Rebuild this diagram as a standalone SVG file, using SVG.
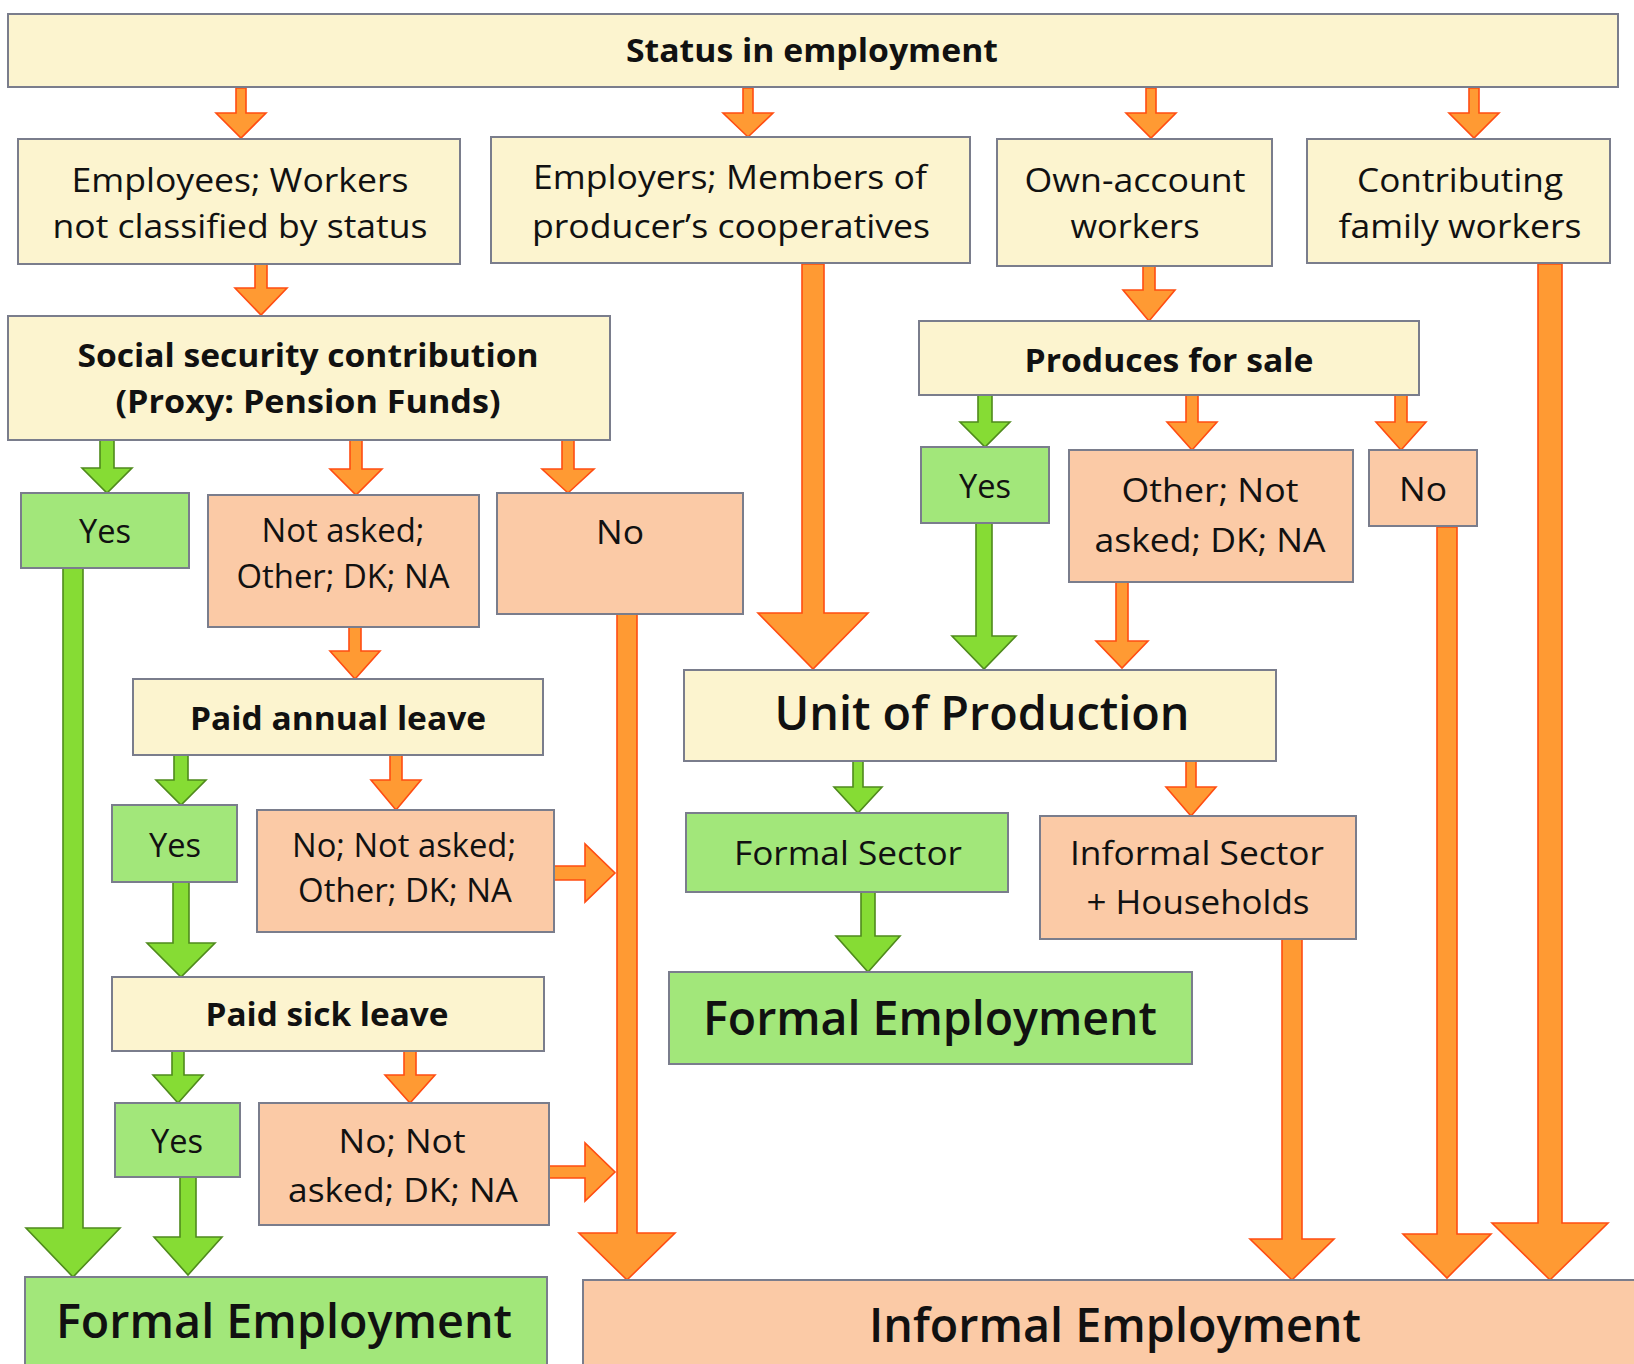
<svg xmlns="http://www.w3.org/2000/svg" width="1634" height="1364" viewBox="0 0 1634 1364">
<style>
.box{stroke:#7a7d8c;stroke-width:2}
.cream{fill:#fcf4cf}
.green{fill:#a2e77a}
.salmon{fill:#fbcaa6}
.ao{fill:#ff9a33;stroke:#ff4d12;stroke-width:1.6;stroke-linejoin:miter}
.ag{fill:#86dc34;stroke:#4f8a1c;stroke-width:1.6;stroke-linejoin:miter}
text{font-family:"Open Sans","Noto Sans","Liberation Sans",sans-serif;fill:#111;text-anchor:middle}
.t{font-size:33px}
.b{font-size:33px;font-weight:700}
.big{font-size:47px;font-weight:600}
</style>
<rect width="1634" height="1364" fill="#ffffff"/>

<g id="connectors">
<path class="ao" d="M236,88 L246,88 L246,113 L266,113 L241,138 L216,113 L236,113 Z"/>
<path class="ao" d="M743,88 L753,88 L753,113 L773,113 L748,137 L723,113 L743,113 Z"/>
<path class="ao" d="M1146,88 L1156,88 L1156,113 L1176,113 L1151,138 L1126,113 L1146,113 Z"/>
<path class="ao" d="M1469,88 L1479,88 L1479,113 L1499,113 L1474,138 L1449,113 L1469,113 Z"/>
<path class="ao" d="M255,264 L267,264 L267,288 L287,288 L261,315 L235,288 L255,288 Z"/>
<path class="ag" d="M100,440 L114,440 L114,468 L132,468 L107,493 L82,468 L100,468 Z"/>
<path class="ao" d="M350,440 L362,440 L362,469 L382,469 L356,495 L330,469 L350,469 Z"/>
<path class="ao" d="M562,440 L574,440 L574,469 L594,469 L568,493 L542,469 L562,469 Z"/>
<path class="ag" d="M63,568 L83,568 L83,1228 L120,1228 L73,1277 L26,1228 L63,1228 Z"/>
<path class="ao" d="M349,627 L361,627 L361,651 L380,651 L355,679 L330,651 L349,651 Z"/>
<path class="ag" d="M174,755 L188,755 L188,780 L206,780 L181,805 L156,780 L174,780 Z"/>
<path class="ao" d="M390,755 L402,755 L402,780 L421,780 L396,810 L371,780 L390,780 Z"/>
<path class="ag" d="M173,882 L189,882 L189,943 L215,943 L181,977 L147,943 L173,943 Z"/>
<path class="ao" d="M554,866 L585,866 L585,844 L615,873 L585,902 L585,880 L554,880 Z"/>
<path class="ag" d="M172,1051 L184,1051 L184,1075 L203,1075 L178,1103 L153,1075 L172,1075 Z"/>
<path class="ao" d="M404,1051 L416,1051 L416,1075 L435,1075 L410,1103 L385,1075 L404,1075 Z"/>
<path class="ao" d="M549,1166 L585,1166 L585,1143 L615,1172 L585,1201 L585,1178 L549,1178 Z"/>
<path class="ag" d="M180,1177 L196,1177 L196,1237 L222,1237 L188,1275 L154,1237 L180,1237 Z"/>
<path class="ao" d="M617,614 L637,614 L637,1233 L675,1233 L627,1280 L579,1233 L617,1233 Z"/>
<path class="ao" d="M802,264 L824,264 L824,613 L868,613 L813,669 L758,613 L802,613 Z"/>
<path class="ao" d="M1143,266 L1155,266 L1155,290 L1175,290 L1149,321 L1123,290 L1143,290 Z"/>
<path class="ag" d="M978,395 L992,395 L992,422 L1010,422 L985,447 L960,422 L978,422 Z"/>
<path class="ao" d="M1186,395 L1198,395 L1198,422 L1217,422 L1192,450 L1167,422 L1186,422 Z"/>
<path class="ao" d="M1395,395 L1407,395 L1407,422 L1426,422 L1401,450 L1376,422 L1395,422 Z"/>
<path class="ag" d="M976,523 L992,523 L992,636 L1016,636 L984,669 L952,636 L976,636 Z"/>
<path class="ao" d="M1116,582 L1128,582 L1128,641 L1148,641 L1122,668 L1096,641 L1116,641 Z"/>
<path class="ao" d="M1437,527 L1457,527 L1457,1234 L1491,1234 L1447,1278 L1403,1234 L1437,1234 Z"/>
<path class="ao" d="M1538,264 L1562,264 L1562,1223 L1608,1223 L1550,1280 L1492,1223 L1538,1223 Z"/>
<path class="ag" d="M853,761 L863,761 L863,787 L882,787 L858,813 L834,787 L853,787 Z"/>
<path class="ao" d="M1186,761 L1196,761 L1196,787 L1216,787 L1191,816 L1166,787 L1186,787 Z"/>
<path class="ag" d="M861,892 L875,892 L875,936 L900,936 L868,972 L836,936 L861,936 Z"/>
<path class="ao" d="M1282,939 L1302,939 L1302,1239 L1334,1239 L1292,1280 L1250,1239 L1282,1239 Z"/>
</g>

<g id="status"><rect class="box cream" x="8" y="14" width="1610" height="73"/><text class="b" x="812" y="62" textLength="372" lengthAdjust="spacingAndGlyphs">Status in employment</text></g>
<g id="employees"><rect class="box cream" x="18" y="139" width="442" height="125"/><text class="t" x="240" y="192" textLength="337" lengthAdjust="spacingAndGlyphs">Employees; Workers</text><text class="t" x="240" y="238" textLength="375" lengthAdjust="spacingAndGlyphs">not classified by status</text></g>
<g id="employers"><rect class="box cream" x="491" y="137" width="479" height="126"/><text class="t" x="730" y="189" textLength="394" lengthAdjust="spacingAndGlyphs">Employers; Members of</text><text class="t" x="731" y="238" textLength="398" lengthAdjust="spacingAndGlyphs">producer’s cooperatives</text></g>
<g id="own-account"><rect class="box cream" x="997" y="139" width="275" height="127"/><text class="t" x="1135" y="192" textLength="221" lengthAdjust="spacingAndGlyphs">Own-account</text><text class="t" x="1135" y="238" textLength="129" lengthAdjust="spacingAndGlyphs">workers</text></g>
<g id="contributing"><rect class="box cream" x="1307" y="139" width="303" height="124"/><text class="t" x="1460" y="192" textLength="206" lengthAdjust="spacingAndGlyphs">Contributing</text><text class="t" x="1460" y="238" textLength="243" lengthAdjust="spacingAndGlyphs">family workers</text></g>
<g id="social-security"><rect class="box cream" x="8" y="316" width="602" height="124"/><text class="b" x="308" y="367" textLength="461" lengthAdjust="spacingAndGlyphs">Social security contribution</text><text class="b" x="308" y="413" textLength="385" lengthAdjust="spacingAndGlyphs">(Proxy: Pension Funds)</text></g>
<g id="ss-yes"><rect class="box green" x="21" y="493" width="168" height="75"/><text class="t" x="105" y="543" textLength="52" lengthAdjust="spacingAndGlyphs">Yes</text></g>
<g id="ss-notasked"><rect class="box salmon" x="208" y="495" width="271" height="132"/><text class="t" x="343" y="542" textLength="163" lengthAdjust="spacingAndGlyphs">Not asked;</text><text class="t" x="343" y="588" textLength="213" lengthAdjust="spacingAndGlyphs">Other; DK; NA</text></g>
<g id="ss-no"><rect class="box salmon" x="497" y="493" width="246" height="121"/><text class="t" x="620" y="544" textLength="48" lengthAdjust="spacingAndGlyphs">No</text></g>
<g id="paid-annual"><rect class="box cream" x="133" y="679" width="410" height="76"/><text class="b" x="338" y="730" textLength="296" lengthAdjust="spacingAndGlyphs">Paid annual leave</text></g>
<g id="pa-yes"><rect class="box green" x="112" y="805" width="125" height="77"/><text class="t" x="175" y="857" textLength="52" lengthAdjust="spacingAndGlyphs">Yes</text></g>
<g id="pa-no"><rect class="box salmon" x="257" y="810" width="297" height="122"/><text class="t" x="404" y="857" textLength="224" lengthAdjust="spacingAndGlyphs">No; Not asked;</text><text class="t" x="405" y="902" textLength="214" lengthAdjust="spacingAndGlyphs">Other; DK; NA</text></g>
<g id="paid-sick"><rect class="box cream" x="112" y="977" width="432" height="74"/><text class="b" x="327" y="1026" textLength="243" lengthAdjust="spacingAndGlyphs">Paid sick leave</text></g>
<g id="ps-yes"><rect class="box green" x="115" y="1103" width="125" height="74"/><text class="t" x="177" y="1153" textLength="52" lengthAdjust="spacingAndGlyphs">Yes</text></g>
<g id="ps-no"><rect class="box salmon" x="259" y="1103" width="290" height="122"/><text class="t" x="402" y="1153" textLength="127" lengthAdjust="spacingAndGlyphs">No; Not</text><text class="t" x="403" y="1202" textLength="230" lengthAdjust="spacingAndGlyphs">asked; DK; NA</text></g>
<g id="formal-employment-left"><rect class="box green" x="25" y="1277" width="522" height="100"/><text class="big" x="284" y="1338" textLength="456" lengthAdjust="spacingAndGlyphs">Formal Employment</text></g>
<g id="informal-employment"><rect class="box salmon" x="583" y="1280" width="1060" height="100"/><text class="big" x="1115" y="1342" textLength="492" lengthAdjust="spacingAndGlyphs">Informal Employment</text></g>
<g id="produces"><rect class="box cream" x="919" y="321" width="500" height="74"/><text class="b" x="1169" y="372" textLength="289" lengthAdjust="spacingAndGlyphs">Produces for sale</text></g>
<g id="pr-yes"><rect class="box green" x="921" y="447" width="128" height="76"/><text class="t" x="985" y="498" textLength="52" lengthAdjust="spacingAndGlyphs">Yes</text></g>
<g id="pr-other"><rect class="box salmon" x="1069" y="450" width="284" height="132"/><text class="t" x="1210" y="502" textLength="177" lengthAdjust="spacingAndGlyphs">Other; Not</text><text class="t" x="1210" y="552" textLength="231" lengthAdjust="spacingAndGlyphs">asked; DK; NA</text></g>
<g id="pr-no"><rect class="box salmon" x="1369" y="450" width="108" height="76"/><text class="t" x="1423" y="501" textLength="48" lengthAdjust="spacingAndGlyphs">No</text></g>
<g id="unit"><rect class="box cream" x="684" y="670" width="592" height="91"/><text class="big" x="982" y="730" textLength="415" lengthAdjust="spacingAndGlyphs">Unit of Production</text></g>
<g id="formal-sector"><rect class="box green" x="686" y="813" width="322" height="79"/><text class="t" x="848" y="865" textLength="228" lengthAdjust="spacingAndGlyphs">Formal Sector</text></g>
<g id="informal-sector"><rect class="box salmon" x="1040" y="816" width="316" height="123"/><text class="t" x="1197" y="865" textLength="254" lengthAdjust="spacingAndGlyphs">Informal Sector</text><text class="t" x="1198" y="914" textLength="223" lengthAdjust="spacingAndGlyphs">+ Households</text></g>
<g id="formal-employment-mid"><rect class="box green" x="669" y="972" width="523" height="92"/><text class="big" x="930" y="1035" textLength="454" lengthAdjust="spacingAndGlyphs">Formal Employment</text></g>
</svg>
